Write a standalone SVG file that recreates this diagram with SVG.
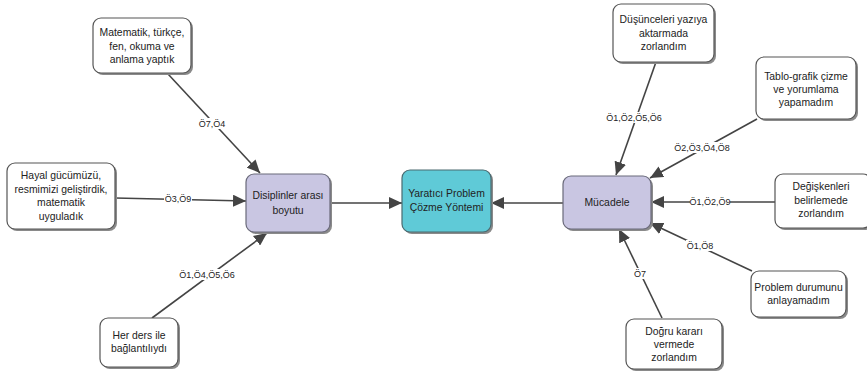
<svg xmlns="http://www.w3.org/2000/svg" width="867" height="374" viewBox="0 0 867 374">
<defs>
<style>
.box{fill:#ffffff;stroke:#555555;stroke-width:1.2}
.sh{fill:#8a8a8a}
.lav{fill:#c9c6e2;stroke:#6a6a7a;stroke-width:1.2}
.teal{fill:#5fcad7;stroke:#4a6a70;stroke-width:1.2}
.t{font-family:"Liberation Sans",Arial,sans-serif;font-size:10.4px;fill:#222;text-anchor:middle}
.l{font-family:"Liberation Sans",Arial,sans-serif;font-size:9px;fill:#222;text-anchor:middle}
.e{stroke:#444444;stroke-width:1.6;fill:none;marker-end:url(#ah)}
.lb{fill:#ffffff}
</style>
<marker id="ah" markerUnits="userSpaceOnUse" markerWidth="14" markerHeight="12" refX="13" refY="6" orient="auto">
<path d="M0,0 L13,6 L0,12 z" fill="#444444"/>
</marker>
</defs>
<rect width="867" height="374" fill="#ffffff"/>

<g id="connectors">
<line class="e" x1="168" y1="74" x2="260" y2="173"/>
<line class="e" x1="115" y1="198" x2="246" y2="201"/>
<line class="e" x1="152" y1="318" x2="267" y2="233"/>
<line class="e" x1="330" y1="203" x2="402" y2="203"/>
<line class="e" x1="563" y1="203" x2="491" y2="203"/>
<line class="e" x1="656" y1="62" x2="616" y2="175"/>
<line class="e" x1="757" y1="119" x2="650" y2="178"/>
<line class="e" x1="776" y1="202" x2="651" y2="202"/>
<line class="e" x1="752" y1="271" x2="650" y2="223"/>
<line class="e" x1="662" y1="318" x2="619" y2="229"/>
<rect class="lb" x="198" y="118" width="28" height="11"/>
<text class="l" x="212" y="127">Ö7,Ö4</text>
<rect class="lb" x="164" y="194" width="28" height="11"/>
<text class="l" x="178" y="202">Ö3,Ö9</text>
<rect class="lb" x="181" y="269" width="52" height="11"/>
<text class="l" x="207" y="278">Ö1,Ö4,Ö5,Ö6</text>
<rect class="lb" x="608" y="112" width="52" height="11"/>
<text class="l" x="634" y="121">Ö1,Ö2,Ö5,Ö6</text>
<rect class="lb" x="676" y="142" width="52" height="11"/>
<text class="l" x="702" y="151">Ö2,Ö3,Ö4,Ö8</text>
<rect class="lb" x="690" y="196" width="40" height="11"/>
<text class="l" x="710" y="205">Ö1,Ö2,Ö9</text>
<rect class="lb" x="686" y="240" width="28" height="11"/>
<text class="l" x="700" y="249">Ö1,Ö8</text>
<rect class="lb" x="633" y="268" width="14" height="11"/>
<text class="l" x="640" y="277">Ö7</text>
</g>

<g id="n-matematik">
<rect class="sh" x="95" y="20" width="98" height="55" rx="8"/>
<rect class="box" x="93" y="18" width="98" height="55" rx="8"/>
<text class="t" x="142" y="36">Matematik, türkçe,</text>
<text class="t" x="142" y="50">fen, okuma ve</text>
<text class="t" x="142" y="63">anlama yaptık</text>
</g>

<g id="n-hayal">
<rect class="sh" x="9" y="165" width="108" height="66" rx="8"/>
<rect class="box" x="7" y="163" width="108" height="66" rx="8"/>
<text class="t" x="61" y="179">Hayal gücümüzü,</text>
<text class="t" x="61" y="192.5">resmimizi geliştirdik,</text>
<text class="t" x="61" y="206">matematik</text>
<text class="t" x="61" y="219.5">uyguladık</text>
</g>

<g id="n-herders">
<rect class="sh" x="102" y="320" width="78" height="49" rx="8"/>
<rect class="box" x="100" y="318" width="78" height="49" rx="8"/>
<text class="t" x="139" y="338.5">Her ders ile</text>
<text class="t" x="139" y="352">bağlantılıydı</text>
</g>

<g id="n-disiplinler">
<rect class="sh" x="248" y="176" width="84" height="58" rx="8"/>
<rect class="lav" x="246" y="174" width="84" height="58" rx="8"/>
<text class="t" x="288" y="199">Disiplinler arası</text>
<text class="t" x="288" y="213.5">boyutu</text>
</g>

<g id="n-yaratici">
<rect class="sh" x="404" y="172" width="89" height="62" rx="8"/>
<rect class="teal" x="402" y="170" width="89" height="62" rx="8"/>
<text class="t" x="446.5" y="197">Yaratıcı Problem</text>
<text class="t" x="446.5" y="211">Çözme Yöntemi</text>
</g>

<g id="n-mucadele">
<rect class="sh" x="565" y="178" width="88" height="53" rx="8"/>
<rect class="lav" x="563" y="176" width="88" height="53" rx="8"/>
<text class="t" x="607" y="206">Mücadele</text>
</g>

<g id="n-dusunceleri">
<rect class="sh" x="615" y="6" width="101" height="58" rx="8"/>
<rect class="box" x="613" y="4" width="101" height="58" rx="8"/>
<text class="t" x="663.5" y="23">Düşünceleri yazıya</text>
<text class="t" x="663.5" y="37">aktarmada</text>
<text class="t" x="663.5" y="50">zorlandım</text>
</g>

<g id="n-tablo">
<rect class="sh" x="758" y="59" width="100" height="62" rx="8"/>
<rect class="box" x="756" y="57" width="100" height="62" rx="8"/>
<text class="t" x="806" y="80">Tablo-grafik çizme</text>
<text class="t" x="806" y="93">ve yorumlama</text>
<text class="t" x="806" y="106">yapamadım</text>
</g>

<g id="n-degiskenleri">
<rect class="sh" x="777" y="176" width="96" height="54" rx="8"/>
<rect class="box" x="775" y="174" width="96" height="54" rx="8"/>
<text class="t" x="821" y="190">Değişkenleri</text>
<text class="t" x="821" y="203.5">belirlemede</text>
<text class="t" x="821" y="217">zorlandım</text>
</g>

<g id="n-problem">
<rect class="sh" x="753" y="273" width="95" height="46" rx="8"/>
<rect class="box" x="751" y="271" width="95" height="46" rx="8"/>
<text class="t" x="798.5" y="291">Problem durumunu</text>
<text class="t" x="798.5" y="304">anlayamadım</text>
</g>

<g id="n-dogru">
<rect class="sh" x="628" y="321" width="96" height="50" rx="8"/>
<rect class="box" x="626" y="319" width="96" height="50" rx="8"/>
<text class="t" x="674" y="335">Doğru kararı</text>
<text class="t" x="674" y="348">vermede</text>
<text class="t" x="674" y="361">zorlandım</text>
</g>
</svg>
